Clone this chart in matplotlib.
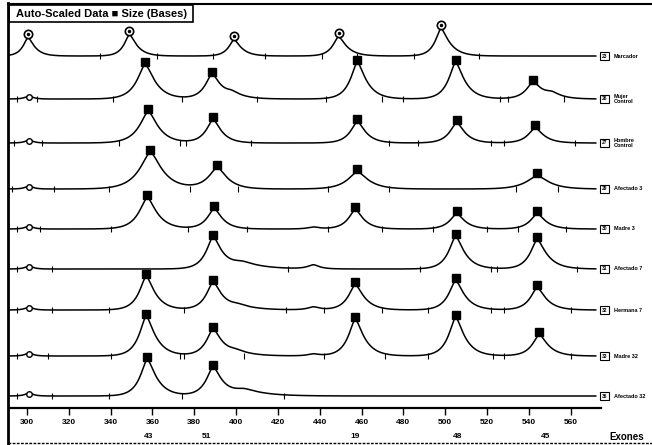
import numpy as np
import matplotlib.pyplot as plt

plt.rcParams['font.family'] = ['Liberation Sans', 'DejaVu Sans']

# lanes, top to bottom
lane_names = ["Marcador", "Mujer\nControl", "Hombre\nControl", "Afectado 3", "Madre 3",
              "Afectado 7", "Hermana 7", "Madre 32", "Afectado 32"]
lane_ids = ["23", "26", "27", "29", "30", "31", "32", "33", "35"]
lane_baselines = [56, 99, 143, 189, 229, 269, 310, 356, 396]  # y in pixels

# peaks per lane: (size in bases, height px, left width, right width)
lane_peaks = [
    [(300.5, 18, 2.6, 3.4), (349, 21, 2.8, 3.8), (399, 16, 2.8, 3.8), (449, 19, 3.0, 4.2), (498, 27, 3.0, 4.4)],
    [(301, 3, 2, 2), (356.5, 34, 4.2, 5.0), (388.5, 24, 3.6, 4.4), (398, 5, 4, 6), (458, 36, 3.6, 4.6),
     (505, 36, 3.6, 4.6), (542, 16, 3.6, 4.4), (551, 5, 4, 5)],
    [(301, 3, 2, 2), (358, 31, 4.6, 5.0), (389, 23, 3.6, 4.2), (458, 21, 3.6, 4.2), (505.5, 20, 3.6, 4.2),
     (543, 15, 3.6, 4.4)],
    [(301, 3, 2, 2), (359, 36, 5.6, 6.0), (391, 21, 4.6, 5.0), (458, 17, 5.0, 5.6), (544, 13, 5.6, 6.0)],
    [(301, 3, 2, 2), (357.5, 31, 4.2, 5.0), (389.5, 20, 3.6, 4.2), (437, 2, 3, 3), (457, 19, 3.6, 4.2),
     (505.5, 15, 3.6, 4.2), (544, 15, 3.6, 4.4)],
    [(301, 3, 2, 2), (389, 31, 3.6, 4.6), (403, 6, 6, 10), (437, 4, 3, 3), (505, 32, 3.6, 4.6), (544, 29, 3.6, 5.0)],
    [(301, 3, 2, 2), (357, 33, 3.6, 4.6), (389, 27, 3.6, 4.6), (401, 4, 5, 9), (437, 3, 3, 3), (457, 25, 3.6, 4.6),
     (505, 29, 3.6, 4.6), (544, 22, 3.6, 4.6)],
    [(301, 3, 2, 2), (357, 39, 3.6, 4.8), (389, 26, 3.6, 4.6), (400, 4, 5, 8), (437, 2, 3, 3), (457, 36, 3.6, 4.6),
     (505, 38, 3.6, 4.6), (545, 21, 3.6, 4.6)],
    [(301, 3, 2, 2), (357.5, 36, 3.6, 4.8), (389, 28, 3.6, 4.6), (404, 6, 6, 10)],
]

# peak window ticks on each baseline
lane_ticks = [
    [335, 362, 389, 414, 441, 458, 485, 516],
    [295, 305, 341, 374, 410, 443, 470, 480, 526, 530, 557],
    [294, 307, 344, 373, 376, 407, 473, 487, 522, 528, 562],
    [293, 313, 339, 378, 401, 444, 473, 534, 554],
    [295, 306, 340, 377, 405, 444, 470, 494, 520, 535, 558],
    [295, 312, 425, 488, 522, 525, 563],
    [295, 312, 339, 375, 424, 442, 470, 492, 522, 528, 560],
    [295, 310, 340, 373, 375, 404, 442, 471, 492, 523, 528, 560],
    [295, 312, 339, 374, 423],
]

axis_ticks = list(range(300, 561, 20))
exon_pos = [358, 386, 457, 506, 548]
exon_labels = ["43", "51", "19", "48", "45"]


def trace(x, peaks):
    # exponential-sided peaks with a rounded top
    y = np.zeros_like(x)
    for pos, h, wl, wr in peaks:
        w = np.where(x < pos, wl, wr)
        c = 0.45 * min(wl, wr)
        d = np.sqrt((x - pos) ** 2 + c ** 2) - c
        y += h * np.exp(-d / w)
    return y


fig = plt.figure(figsize=(6.52, 4.45), dpi=100)

# frame in pixel coords
frame = fig.add_axes([0, 0, 1, 1])
frame.set_xlim(0, 652)
frame.set_ylim(445, 0)
frame.axis('off')
frame.plot([8, 8], [3, 445], color='black', lw=2)
frame.plot([8, 652], [4, 4], color='black', lw=1.5)
frame.plot([8, 652], [443, 443], color='black', lw=1, ls=(0, (2, 1)))
frame.add_patch(plt.Rectangle((9, 5), 184, 17, fill=False, ec='black', lw=1.2))
frame.text(16, 14, "Auto-Scaled Data \u25a0 Size (Bases)", fontsize=8, fontweight='bold', va='center')

# data axes: x in bases, y in pixels
ax = fig.add_axes([8 / 652, 0, 644 / 652, 1])
ax.set_xlim(290.9, 598.9)
ax.set_ylim(445, 0)
ax.axis('off')

x = np.linspace(291, 572, 3000)
for i, name in enumerate(lane_names):
    base = lane_baselines[i]
    peaks = lane_peaks[i]
    ax.plot(x, base - trace(x, peaks), color='black', lw=1.1)
    ax.vlines(lane_ticks[i], base - 3, base + 3, color='black', lw=0.8)
    for pos, h, wl, wr in peaks:
        if i == 0:
            ax.plot(pos, base - h - 4, marker='o', ms=6, mfc='white', mec='black', mew=1.2)
            ax.plot(pos, base - h - 4, marker='o', ms=1.5, color='black')
        elif h >= 10:
            ax.plot(pos, base - h - 3, marker='s', ms=5.5, color='black')
        elif pos < 305:
            ax.plot(pos, base - 2, marker='o', ms=4, mfc='white', mec='black', mew=1)
    ax.text(576, base, lane_ids[i], fontsize=3.5, fontweight='bold', ha='center', va='center',
            bbox=dict(boxstyle='square,pad=0.35', fc='white', ec='black', lw=0.8))
    ax.text(580.5, base, name, fontsize=4, fontweight='bold', ha='left', va='center', linespacing=0.9)

# size axis
ax.plot([290.9, 574.5], [408, 408], color='black', lw=1.6)
ax.vlines(axis_ticks, 408, 415, color='black', lw=1)
for t in axis_ticks:
    ax.text(t, 423, str(t), fontsize=6, fontweight='bold', ha='center', va='center')
for p, lab in zip(exon_pos, exon_labels):
    ax.text(p, 437, lab, fontsize=6, fontweight='bold', ha='center', va='center')
ax.text(578.5, 437, "Exones", fontsize=7, fontweight='bold', ha='left', va='center')

fig.savefig("out.png", dpi=100)
